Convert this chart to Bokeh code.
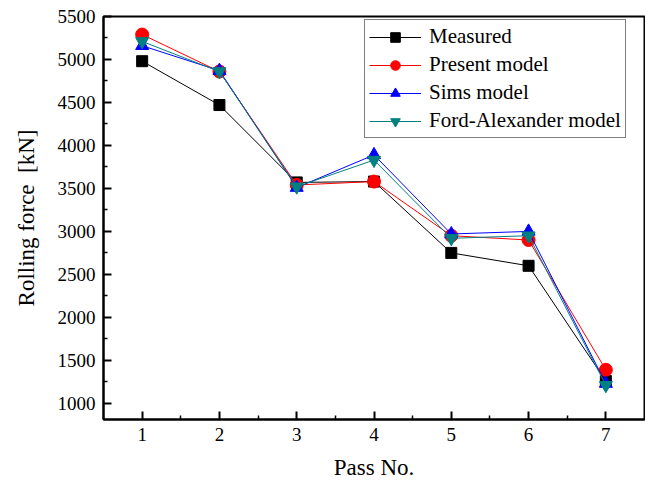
from bokeh.plotting import figure
from bokeh.models import FixedTicker, Legend, LegendItem, Range1d
from bokeh.embed import file_html
from bokeh.resources import INLINE

passes = [1, 2, 3, 4, 5, 6, 7]
measured = [4980, 4470, 3570, 3580, 2750, 2600, 1260]
present = [5290, 4860, 3540, 3580, 2950, 2900, 1390]
sims = [5160, 4870, 3510, 3890, 2970, 3000, 1230]
ford = [5210, 4860, 3520, 3830, 2920, 2950, 1210]

FONT = "Liberation Serif"

p = figure(width=645, height=482, output_backend="svg", toolbar_location=None,
           x_range=Range1d(0.5, 7.5), y_range=Range1d(812, 5500))
p.min_border_left = 103
p.min_border_right = 1
p.min_border_top = 16
p.min_border_bottom = 62
p.grid.visible = False
p.outline_line_color = "black"
p.outline_line_width = 2

series = [
    ("Measured", measured, "black", "square", 11),
    ("Present model", present, "red", "circle", 13),
    ("Sims model", sims, "blue", "triangle", 13),
    ("Ford-Alexander model", ford, "#008080", "inverted_triangle", 13),
]
items = []
for name, vals, col, mk, sz in series:
    r1 = p.line(passes, vals, line_color=col, line_width=1)
    r2 = p.scatter(passes, vals, marker=mk, size=sz, fill_color=col, line_color=col)
    items.append(LegendItem(label=name, renderers=[r1, r2]))

leg = Legend(items=items, location=(261, 281))
leg.label_text_font = FONT
leg.label_text_font_size = "21px"
leg.label_text_color = "black"
leg.glyph_width = 52
leg.glyph_height = 24
leg.spacing = 3
leg.padding = 4
leg.margin = 0
leg.border_line_color = "black"
leg.border_line_width = 1
leg.label_standoff = 8
p.add_layout(leg, "center")

for ax in [p.xaxis[0], p.yaxis[0]]:
    ax.axis_line_width = 2
    ax.major_tick_line_width = 2
    ax.minor_tick_line_width = 1.5
    ax.major_tick_in = 8
    ax.major_tick_out = 0
    ax.minor_tick_in = 4
    ax.minor_tick_out = 0
    ax.major_label_text_font = FONT
    ax.major_label_text_font_size = "19px"
    ax.major_label_text_color = "black"
    ax.axis_label_text_font = FONT
    ax.axis_label_text_font_size = "23px"
    ax.axis_label_text_font_style = "normal"
    ax.axis_label_text_color = "black"

p.xaxis.ticker = FixedTicker(ticks=passes, minor_ticks=[1.5, 2.5, 3.5, 4.5, 5.5, 6.5])
p.yaxis.ticker = FixedTicker(ticks=list(range(1000, 5501, 500)),
                             minor_ticks=list(range(1250, 5500, 500)))
p.xaxis.axis_label = "Pass No."
p.yaxis.axis_label = "Rolling force\u00a0\u00a0[kN]"
p.xaxis.major_label_standoff = 8
p.xaxis.axis_label_standoff = 11
p.yaxis.major_label_standoff = 8
p.yaxis.axis_label_standoff = 16

open("out.html", "w").write(file_html(p, INLINE))
